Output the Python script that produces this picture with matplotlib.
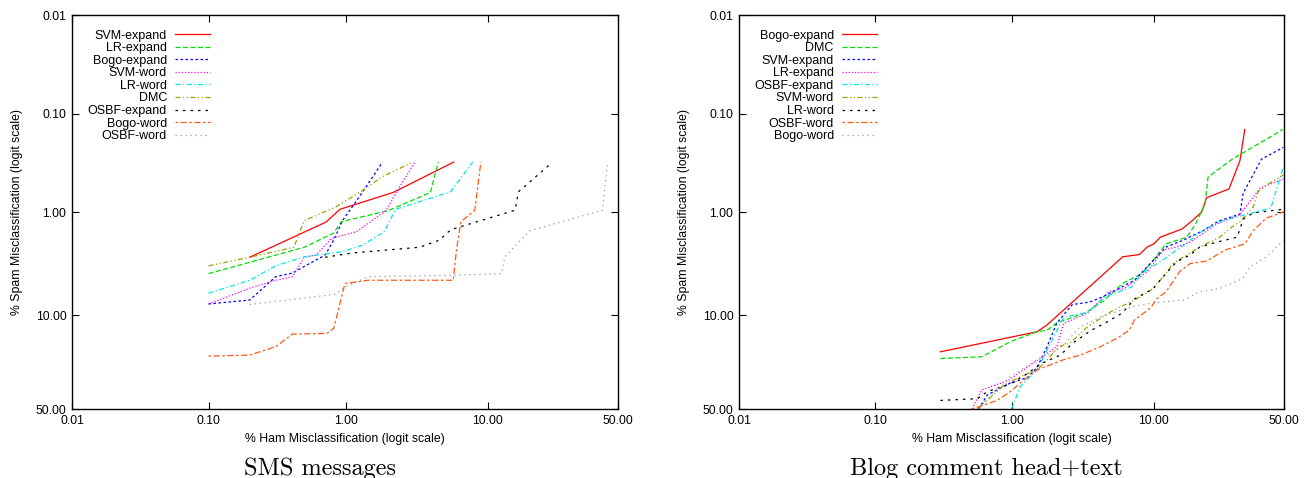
"""Spam filter ROC curves on logit axes: SMS messages vs blog comments."""

import numpy as np
import matplotlib
matplotlib.use("Agg")
import matplotlib.pyplot as plt
from matplotlib.ticker import FixedLocator, FixedFormatter, NullLocator

plt.rcParams["font.family"] = ["Liberation Sans", "DejaVu Sans"]

TICKS = [0.01, 0.1, 1.0, 10.0, 50.0]
TICK_LABELS = ["0.01", "0.10", "1.00", "10.00", "50.00"]

# ---- SMS messages: (% ham misclassified, % spam misclassified)
sms_labels = ["SVM-expand", "LR-expand", "Bogo-expand", "SVM-word", "LR-word",
              "DMC", "OSBF-expand", "Bogo-word", "OSBF-word"]

sms_svm_expand_x = [0.20, 0.72, 0.91, 2.2, 5.9]
sms_svm_expand_y = [2.8, 1.25, 0.93, 0.63, 0.31]

sms_lr_expand_x = [0.10, 0.20, 0.50, 0.82, 0.93, 2.03, 4.05, 4.6]
sms_lr_expand_y = [4.05, 3.14, 2.23, 1.61, 1.24, 0.96, 0.63, 0.31]

sms_bogo_expand_x = [0.10, 0.20, 0.31, 0.41, 0.71, 0.82, 0.95, 1.33, 1.85]
sms_bogo_expand_y = [7.9, 7.26, 4.34, 4.0, 2.66, 1.89, 1.21, 0.62, 0.31]

sms_svm_word_x = [0.10, 0.20, 0.31, 0.41, 0.50, 0.61, 0.79, 1.20, 1.97, 2.33, 3.15]
sms_svm_word_y = [7.9, 5.6, 4.7, 4.34, 2.8, 2.66, 1.82, 1.56, 0.95, 0.62, 0.31]

sms_lr_word_x = [0.10, 0.20, 0.31, 0.50, 0.95, 1.33, 1.9, 2.3, 5.6, 7.95]
sms_lr_word_y = [6.27, 4.7, 3.4, 2.77, 2.47, 2.12, 1.56, 0.93, 0.62, 0.31]

sms_dmc_x = [0.10, 0.20, 0.42, 0.50, 0.85, 1.33, 1.82, 3.05]
sms_dmc_y = [3.4, 2.8, 2.23, 1.21, 0.88, 0.60, 0.44, 0.31]

sms_osbf_expand_x = [0.71, 1.14, 3.4, 4.7, 5.25, 5.7, 15.0, 15.7, 24.0]
sms_osbf_expand_y = [2.8, 2.53, 2.23, 1.89, 1.62, 1.48, 0.95, 0.62, 0.33]

sms_bogo_word_x = [0.10, 0.20, 0.31, 0.41, 0.73, 0.82, 0.99, 1.2, 1.45,
                   5.85, 6.15, 6.6, 8.2, 9.0]
sms_bogo_word_y = [22.5, 22.1, 18.9, 14.8, 14.6, 13.2, 5.03, 4.88, 4.7,
                   4.7, 2.37, 1.24, 0.95, 0.31]

sms_osbf_word_x = [0.20, 0.85, 0.99, 1.47, 5.85, 12.3, 12.9, 18.4, 43.5, 45.6]
sms_osbf_word_y = [8.0, 6.4, 5.43, 4.34, 4.2, 4.05, 2.77, 1.53, 0.95, 0.31]

# ---- Blog comment head+text
blog_labels = ["Bogo-expand", "DMC", "SVM-expand", "LR-expand", "OSBF-expand",
               "SVM-word", "LR-word", "OSBF-word", "Bogo-word"]

blog_bogo_expand_x = [0.30, 1.52, 1.79, 6.15, 8.0, 9.0, 10.0, 11.0, 15.1,
                      17.4, 19.9, 21.3, 28.3, 32.2, 34.0]
blog_bogo_expand_y = [20.8, 14.1, 12.3, 2.77, 2.63, 2.22, 2.06, 1.77, 1.47,
                      1.22, 0.99, 0.71, 0.58, 0.30, 0.145]

blog_dmc_x = [0.30, 0.60, 0.97, 1.52, 1.79, 2.1, 3.4, 4.6, 6.15, 8.3, 9.9,
              12.0, 16.2, 18.2, 20.8, 21.7, 29.4, 49.6]
blog_dmc_y = [23.5, 22.8, 17.2, 14.1, 13.7, 11.8, 9.5, 7.26, 5.03, 4.05,
              2.99, 2.06, 1.77, 1.33, 0.83, 0.44, 0.29, 0.145]

blog_svm_expand_x = [0.57, 0.66, 0.94, 1.30, 1.52, 1.79, 2.1, 2.43, 2.72, 3.6,
                     4.45, 6.15, 7.4, 9.9, 12.0, 15.5, 20.3, 24.9, 32.2, 33.4,
                     40.6, 49.7]
blog_svm_expand_y = [50.0, 41.9, 35.8, 32.3, 27.4, 18.9, 11.9, 9.5, 8.0, 7.6,
                     6.8, 5.4, 4.7, 3.0, 2.22, 1.89, 1.52, 1.22, 1.04, 0.64,
                     0.29, 0.22]

blog_lr_expand_x = [0.51, 0.60, 0.94, 2.1, 2.36, 3.5, 4.9, 6.3, 9.1, 11.5,
                    14.0, 17.0, 24.4, 32.2, 40.0, 49.7]
blog_lr_expand_y = [50.0, 39.0, 33.9, 18.9, 11.9, 9.6, 6.05, 5.65, 3.84, 2.37,
                    2.22, 1.98, 1.30, 1.05, 0.57, 0.46]

blog_osbf_expand_x = [0.99, 1.15, 1.52, 1.84, 2.36, 3.5, 4.6, 7.0, 8.3, 11.0,
                      15.5, 20.3, 25.2, 32.2, 44.5, 49.7]
blog_osbf_expand_y = [50.0, 37.0, 28.6, 18.9, 10.4, 9.5, 6.8, 5.5, 4.0, 3.1,
                      2.12, 1.52, 1.24, 1.09, 0.90, 0.35]

blog_svm_word_x = [0.56, 0.66, 0.87, 1.22, 1.52, 1.79, 2.17, 2.63, 3.5, 5.1,
                   7.4, 9.5, 11.5, 13.3, 15.5, 19.4, 25.2, 29.3, 32.2, 37.3,
                   39.2, 42.6, 49.7]
blog_svm_word_y = [50.0, 45.0, 36.3, 31.1, 28.6, 24.2, 18.9, 17.6, 12.7, 9.3,
                   7.26, 5.9, 4.34, 3.23, 2.77, 2.22, 1.77, 1.40, 1.24, 0.88,
                   0.62, 0.53, 0.42]

blog_lr_word_x = [0.30, 0.56, 0.66, 0.97, 1.30, 1.62, 2.23, 2.75, 3.7, 4.6,
                  6.1, 7.4, 9.9, 11.5, 14.0, 17.0, 19.4, 24.4, 31.2, 33.4,
                  37.3, 49.7]
blog_lr_word_y = [45.0, 44.0, 40.0, 35.7, 30.3, 25.7, 22.1, 17.6, 13.7, 11.9,
                  9.6, 7.1, 5.65, 4.34, 3.1, 2.66, 2.22, 1.98, 1.77, 1.17,
                  1.01, 0.93]

blog_osbf_word_x = [0.51, 0.78, 0.97, 1.22, 1.52, 2.0, 2.36, 3.1, 4.3, 5.6,
                    6.8, 7.4, 9.5, 10.4, 12.0, 14.7, 17.0, 21.3, 27.0, 34.1,
                    37.3, 42.6, 49.7]
blog_osbf_word_y = [50.0, 45.0, 40.0, 33.6, 28.6, 25.7, 24.0, 22.1, 18.9, 16.1,
                    13.7, 11.1, 8.6, 7.1, 6.05, 3.84, 3.23, 3.05, 2.37, 2.06,
                    1.52, 1.14, 0.99]

blog_bogo_word_x = [0.56, 0.78, 0.97, 1.44, 1.79, 2.1, 2.36, 3.1, 3.5, 4.3,
                    5.6, 7.4, 9.9, 15.5, 19.4, 25.2, 29.3, 33.4, 36.0, 42.6,
                    49.7]
blog_bogo_word_y = [50.0, 39.0, 32.0, 24.8, 22.1, 20.2, 18.3, 12.7, 11.9, 10.4,
                    9.3, 8.3, 7.7, 7.26, 6.05, 5.65, 5.03, 4.5, 3.48, 2.77,
                    1.92]

sms_series = [
    (sms_svm_expand_x, sms_svm_expand_y),
    (sms_lr_expand_x, sms_lr_expand_y),
    (sms_bogo_expand_x, sms_bogo_expand_y),
    (sms_svm_word_x, sms_svm_word_y),
    (sms_lr_word_x, sms_lr_word_y),
    (sms_dmc_x, sms_dmc_y),
    (sms_osbf_expand_x, sms_osbf_expand_y),
    (sms_bogo_word_x, sms_bogo_word_y),
    (sms_osbf_word_x, sms_osbf_word_y),
]
blog_series = [
    (blog_bogo_expand_x, blog_bogo_expand_y),
    (blog_dmc_x, blog_dmc_y),
    (blog_svm_expand_x, blog_svm_expand_y),
    (blog_lr_expand_x, blog_lr_expand_y),
    (blog_osbf_expand_x, blog_osbf_expand_y),
    (blog_svm_word_x, blog_svm_word_y),
    (blog_lr_word_x, blog_lr_word_y),
    (blog_osbf_word_x, blog_osbf_word_y),
    (blog_bogo_word_x, blog_bogo_word_y),
]

# gnuplot-like line types 1..9
COLORS = ["#ff0000", "#00e000", "#0000ff", "#ff00ff", "#00e8e8",
          "#a0a000", "#000000", "#ff5a14", "#999999"]
DASHES = ["-", (0, (4, 2)), (0, (2, 2)), (0, (1, 1.5)),
          (0, (4, 2, 1, 2)), (0, (4, 2, 1, 2, 1, 2)), (0, (2, 4)),
          (0, (2, 2, 5, 2)), (0, (1, 3))]


def _logit_pct(p):
    p = np.clip(np.asarray(p, dtype=float), 1e-6, 100 - 1e-6)
    return np.log(p / (100.0 - p))


def _inv_logit_pct(u):
    return 100.0 / (1.0 + np.exp(-np.asarray(u, dtype=float)))


def _panel(ax, series, labels):
    for i, ((xs, ys), lab) in enumerate(zip(series, labels)):
        ax.plot(xs, ys, color=COLORS[i], linestyle=DASHES[i], lw=0.9, label=lab)
    for setscale in (ax.set_xscale, ax.set_yscale):
        setscale("function", functions=(_logit_pct, _inv_logit_pct))
    ax.set_xlim(0.01, 50)
    ax.set_ylim(50, 0.01)
    for axis in (ax.xaxis, ax.yaxis):
        axis.set_major_locator(FixedLocator(TICKS))
        axis.set_major_formatter(FixedFormatter(TICK_LABELS))
        axis.set_minor_locator(NullLocator())
    ax.tick_params(direction="in", length=5, width=0.8, labelsize=8.8,
                   top=True, right=True, pad=4)
    ax.set_xlabel("% Ham Misclassification (logit scale)", fontsize=8.8,
                  labelpad=4.5)
    ax.set_ylabel("% Spam Misclassification (logit scale)", fontsize=8.8,
                  labelpad=9)
    for sp in ax.spines.values():
        sp.set_linewidth(1.0)
    ax.legend(loc="upper right", markerfirst=False, frameon=False,
              fontsize=9, handlelength=2.8, handletextpad=0.65,
              labelspacing=0.045, borderpad=0, borderaxespad=0,
              bbox_to_anchor=(0.253, 0.963))


fig = plt.figure(figsize=(13.04, 4.78), dpi=100)
ax1 = fig.add_axes([72 / 1304, 69 / 478, 546 / 1304, 394 / 478])
ax2 = fig.add_axes([739 / 1304, 69 / 478, 545 / 1304, 394 / 478])
_panel(ax1, sms_series, sms_labels)
_panel(ax2, blog_series, blog_labels)

fig.text(320 / 1304, 2.5 / 478, "SMS messages", family="cmr10",
         fontsize=17.5, ha="center", va="baseline")
fig.text(986 / 1304, 2.5 / 478, "Blog comment head+text", family="cmr10",
         fontsize=17.5, ha="center", va="baseline")

fig.savefig("out.png", dpi=100)
